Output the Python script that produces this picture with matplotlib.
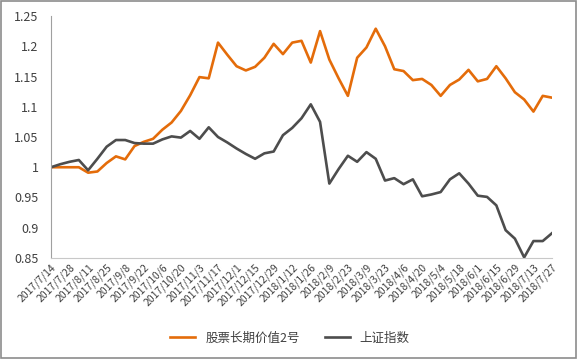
import matplotlib
matplotlib.use("Agg")
import matplotlib.pyplot as plt
from matplotlib.patches import Rectangle
import numpy as np

plt.rcParams['font.family'] = ['Noto Sans CJK SC', 'DejaVu Sans']

# tick labels (every second week)
date_labels = ["2017/7/14", "2017/7/28", "2017/8/11", "2017/8/25", "2017/9/8",
               "2017/9/22", "2017/10/6", "2017/10/20", "2017/11/3", "2017/11/17",
               "2017/12/1", "2017/12/15", "2017/12/29", "2018/1/12", "2018/1/26",
               "2018/2/9", "2018/2/23", "2018/3/9", "2018/3/23", "2018/4/6",
               "2018/4/20", "2018/5/4", "2018/5/18", "2018/6/1", "2018/6/15",
               "2018/6/29", "2018/7/13", "2018/7/27"]

# weekly values
fund = [1.000, 1.000, 1.000, 1.000, 0.991, 0.993, 1.007, 1.018, 1.013, 1.035,
        1.042, 1.047, 1.062, 1.074, 1.093, 1.119, 1.149, 1.147, 1.206, 1.186,
        1.167, 1.160, 1.166, 1.181, 1.204, 1.187, 1.206, 1.209, 1.173, 1.225,
        1.178, 1.147, 1.118, 1.181, 1.198, 1.229, 1.200, 1.162, 1.159, 1.144,
        1.146, 1.136, 1.118, 1.136, 1.145, 1.161, 1.142, 1.146, 1.167, 1.147,
        1.124, 1.112, 1.092, 1.118, 1.115]

index_sh = [1.000, 1.005, 1.009, 1.012, 0.995, 1.014, 1.034, 1.045, 1.045, 1.040,
            1.039, 1.039, 1.046, 1.051, 1.049, 1.060, 1.047, 1.066, 1.050, 1.041,
            1.031, 1.022, 1.014, 1.023, 1.026, 1.053, 1.065, 1.081, 1.104, 1.075,
            0.973, 0.997, 1.019, 1.009, 1.025, 1.014, 0.978, 0.982, 0.972, 0.980,
            0.952, 0.955, 0.959, 0.980, 0.990, 0.973, 0.953, 0.951, 0.937, 0.896,
            0.882, 0.851, 0.878, 0.878, 0.891]

fig = plt.figure(figsize=(5.77, 3.59), dpi=100)
ax = fig.add_axes([51/577, 1 - 258/359, (552 - 51)/577, (258 - 16)/359])

x = np.arange(len(fund))
ax.plot(x, fund, color='#E46C0A', lw=1.9, label='股票长期价值2号')
ax.plot(x, index_sh, color='#4D4D4D', lw=1.9, label='上证指数')

ax.set_xlim(0, len(fund) - 1)
ax.set_ylim(0.85, 1.25)
ax.set_yticks([0.85, 0.9, 0.95, 1.0, 1.05, 1.1, 1.15, 1.2, 1.25])
ax.set_yticklabels(['0.85', '0.9', '0.95', '1', '1.05', '1.1', '1.15', '1.2', '1.25'],
                   fontsize=9, color='#404040')
ax.set_xticks(x[::2])
ax.set_xticklabels(date_labels, rotation=45, ha='right', rotation_mode='anchor',
                   fontsize=7.5, color='#404040')
ax.tick_params(axis='both', length=0)
ax.tick_params(axis='x', pad=3)
ax.tick_params(axis='y', pad=9)

for s in ['top', 'right']:
    ax.spines[s].set_visible(False)
ax.spines['left'].set_color('#A0A0A0')
ax.spines['bottom'].set_color('#C8C8C8')

fig.legend(loc='center', bbox_to_anchor=(290/577, 1 - 338/359), ncol=2,
           frameon=False, fontsize=9, handlelength=2.0, columnspacing=2.0,
           labelcolor='#404040')

fig.patches.append(Rectangle((0.001, 0.002), 0.997, 0.995, transform=fig.transFigure,
                             fill=False, edgecolor='#8C8C8C', lw=1.2))

fig.savefig('out.png', dpi=100)
